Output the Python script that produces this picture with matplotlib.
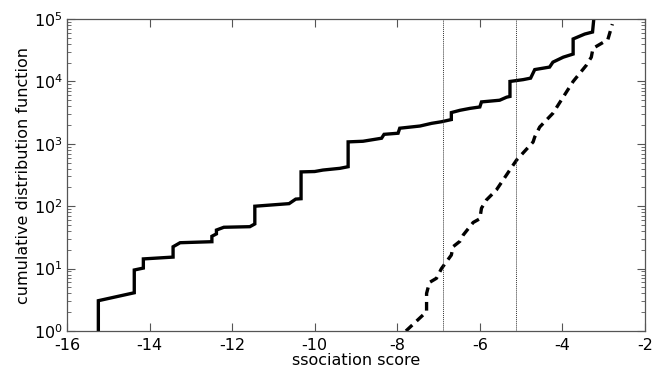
import matplotlib
matplotlib.use("Agg")
import matplotlib.pyplot as plt
from matplotlib.ticker import LogLocator

solid_x = [-15.24, -15.24, -14.37, -14.37, -14.15, -14.15, -13.43, -13.43, -13.26,
           -12.49, -12.49, -12.38, -12.38, -12.20, -11.57, -11.45, -11.45, -10.62,
           -10.46, -10.33, -10.33, -10.0, -9.80, -9.39, -9.19, -9.19, -8.83, -8.38,
           -8.32, -7.98, -7.94, -7.45, -7.17, -6.93, -6.69, -6.69, -6.48, -6.24,
           -6.00, -5.96, -5.52, -5.35, -5.27, -5.27, -4.95, -4.77, -4.67, -4.31,
           -4.23, -3.98, -3.74, -3.74, -3.46, -3.27, -3.24]
solid_y = [1.0, 3.06, 4.1, 9.5, 10.2, 14.3, 15.3, 22.4, 26.0,
           27.0, 33.0, 36.0, 41.5, 46.0, 47.0, 52.0, 100.0, 110.0,
           130.0, 132.0, 355.0, 360.0, 380.0, 405.0, 430.0, 1075.0, 1100.0, 1230.0,
           1420.0, 1480.0, 1780.0, 1930.0, 2130.0, 2260.0, 2450.0, 3170.0, 3450.0, 3700.0,
           3900.0, 4700.0, 5000.0, 5600.0, 5750.0, 10000.0, 10700.0, 11300.0, 15500.0, 17000.0,
           20400.0, 24500.0, 27500.0, 48000.0, 57500.0, 62000.0, 100000.0]

# Dashed curve: reference distribution
dash_x = [-7.79, -7.29, -7.29, -7.22, -7.05, -6.93, -6.69, -6.65, -6.48, -6.40,
          -6.16, -6.00, -5.96, -5.84, -5.60, -5.11, -4.71, -4.67, -4.55, -4.23,
          -3.74, -3.42, -3.30, -3.26, -2.90, -2.79]
dash_y = [1.0, 2.04, 4.0, 6.0, 7.0, 10.0, 16.5, 22.4, 27.5, 34.7,
          55.0, 63.0, 93.0, 126.0, 182.0, 550.0, 1070.0, 1290.0, 1860.0, 3090.0,
          10000.0, 18200.0, 24500.0, 33900.0, 46800.0, 83000.0]

# Thresholds
thresholds = [-6.9, -5.13]

plt.rcParams["font.family"] = "DejaVu Sans"
plt.rcParams["font.size"] = 11.5
plt.rcParams["mathtext.default"] = "regular"

fig = plt.figure(figsize=(6.54, 3.74), dpi=100)
ax = fig.add_axes([0.1024, 0.115, 0.8838, 0.834])

ax.plot(solid_x, solid_y, color="black", linewidth=2.4, solid_joinstyle="miter")
ax.plot(dash_x, dash_y, color="black", linewidth=2.4, dashes=(2.6, 1.8))
for t in thresholds:
    ax.axvline(t, color="#333333", linewidth=0.7, linestyle=(0, (1, 1)))

ax.set_yscale("log")
ax.set_xlim(-16, -2)
ax.set_ylim(1, 1e5)
ax.set_xticks(range(-16, -1, 2))
ax.set_xticklabels([str(v) for v in range(-16, -1, 2)])
ax.yaxis.set_major_locator(LogLocator(base=10, numticks=10))
ax.yaxis.set_minor_locator(LogLocator(base=10, subs=range(2, 10), numticks=20))

ax.tick_params(which="both", direction="in", top=True, right=True, color="#555555")
ax.tick_params(which="major", length=6, width=0.8)
ax.tick_params(axis="x", which="major", pad=5)
ax.tick_params(axis="y", which="major", pad=3)
ax.tick_params(which="minor", length=3, width=0.6)
for sp in ax.spines.values():
    sp.set_color("#555555")
    sp.set_linewidth(0.9)

ax.set_xlabel("ssociation score", labelpad=0)
ax.set_ylabel("cumulative distribution function", labelpad=2)

fig.savefig("out.png", dpi=100)
